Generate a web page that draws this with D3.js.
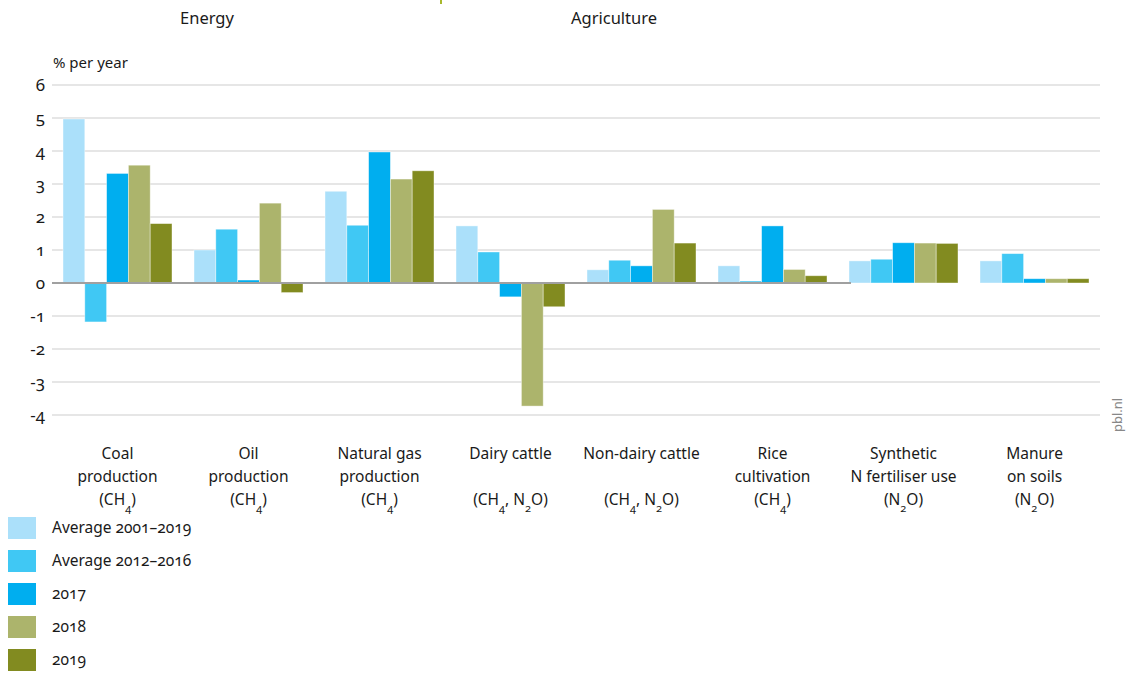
<!DOCTYPE html>
<html>
<head>
<meta charset="utf-8">
<script src="https://cdn.jsdelivr.net/npm/d3@7"></script>
<style>
	body { margin: 0; background: #fff; }
	svg text { font-family: "Noto Sans", "Open Sans", sans-serif; fill: #1a1a1a; font-variant-numeric: oldstyle-nums; }
</style>
</head>
<body>
<div id="chart"></div>
<script>

// categories, each label split into lines; "_x" marks a subscript
var categories = ['coal', 'oil', 'gas', 'dairy', 'nondairy', 'rice', 'synthetic', 'manure']
var categoryLabels = [
	['Coal', 'production', '(CH_4)'],
	['Oil', 'production', '(CH_4)'],
	['Natural gas', 'production', '(CH_4)'],
	['Dairy cattle', '', '(CH_4, N_2O)'],
	['Non-dairy cattle', '', '(CH_4, N_2O)'],
	['Rice', 'cultivation', '(CH_4)'],
	['Synthetic', 'N fertiliser use', '(N_2O)'],
	['Manure', 'on soils', '(N_2O)']
]

var seriesNames = ['Average 2001\u20132019', 'Average 2012\u20132016', '2017', '2018', '2019']
var seriesColors = ['#abe0fa', '#40c8f4', '#00aeef', '#acb46c', '#828b20']

var avg2001_2019 = [4.97, 1.0, 2.78, 1.73, 0.40, 0.52, 0.67, 0.67]
var avg2012_2016 = [-1.18, 1.63, 1.75, 0.94, 0.69, 0.06, 0.72, 0.89]
var y2017 = [3.32, 0.09, 3.97, -0.42, 0.52, 1.73, 1.22, 0.13]
var y2018 = [3.57, 2.42, 3.15, -3.73, 2.23, 0.41, 1.21, 0.13]
var y2019 = [1.80, -0.29, 3.40, -0.72, 1.21, 0.22, 1.20, 0.13]

var yTicks = [-4, -3, -2, -1, 0, 1, 2, 3, 4, 5, 6]

var series = [avg2001_2019, avg2012_2016, y2017, y2018, y2019]

var W = 1126, H = 673
var plot = { left: 52, right: 1100, top: 85, zero: 283 }

var svg = d3.select('#chart').append('svg')
	.attr('width', W)
	.attr('height', H)

var xScale = d3.scaleBand()
	.domain(categories)
	.range([plot.left, plot.right])
	.paddingInner(0.168)
	.paddingOuter(0.084)

var xInner = d3.scaleBand()
	.domain(d3.range(seriesNames.length))
	.range([0, xScale.bandwidth()])

var yScale = d3.scaleLinear()
	.domain([-4, 6])
	.range([plot.zero + 4 * 33, plot.zero - 6 * 33])

// gridlines
svg.append('g').selectAll('line')
	.data(yTicks.filter(function(d) { return d !== 0 }))
	.enter().append('line')
	.attr('x1', plot.left)
	.attr('x2', plot.right)
	.attr('y1', function(d) { return yScale(d) })
	.attr('y2', function(d) { return yScale(d) })
	.attr('stroke', '#dedede')
	.attr('stroke-width', 1.5)

// y tick labels
svg.append('g').selectAll('text')
	.data(yTicks)
	.enter().append('text')
	.attr('x', 45)
	.attr('y', function(d) { return yScale(d) + 6 })
	.attr('text-anchor', 'end')
	.style('font-size', '17px')
	.text(function(d) { return d })

svg.append('text')
	.attr('x', 53)
	.attr('y', 68)
	.style('font-size', '15px')
	.text('% per year')

// bars
var groups = svg.append('g').selectAll('g')
	.data(categories)
	.enter().append('g')
	.attr('transform', function(d) { return 'translate(' + xScale(d) + ',0)' })

groups.each(function(c, ci) {
	d3.select(this).selectAll('rect')
		.data(series.map(function(s, si) { return { si: si, v: s[ci] } }))
		.enter().append('rect')
		.attr('x', function(d) { return xInner(d.si) })
		.attr('width', xInner.bandwidth())
		.attr('y', function(d) { return yScale(Math.max(0, d.v)) })
		.attr('height', function(d) { return Math.abs(yScale(d.v) - yScale(0)) })
		.attr('fill', function(d) { return seriesColors[d.si] })
		.attr('stroke', '#ffffff')
		.attr('stroke-opacity', 0.5)
		.attr('stroke-width', 0.8)
})

// zero line
svg.append('line')
	.attr('x1', plot.left)
	.attr('x2', xScale(categories[6]) + 2)
	.attr('y1', yScale(0))
	.attr('y2', yScale(0))
	.attr('stroke', '#a0a0a0')
	.attr('stroke-width', 1.8)

// category labels with subscripts
var labelLines = [459, 482, 505]
categoryLabels.forEach(function(lines, ci) {
	var cx = xScale(categories[ci]) + xScale.bandwidth() / 2
	lines.forEach(function(line, li) {
		if (!line) return
		var t = svg.append('text')
			.attr('x', cx)
			.attr('y', labelLines[li])
			.attr('text-anchor', 'middle')
			.style('font-size', '15.5px')
		var parts = line.split(/_(\d)/)
		var shift = 0
		parts.forEach(function(p, pi) {
			if (pi % 2 === 1) {
				t.append('tspan').attr('dy', 7).style('font-size', '11px').text(p)
				shift = -7
			} else if (p) {
				t.append('tspan').attr('dy', shift).text(p)
				shift = 0
			}
		})
	})
})

// section titles
svg.append('text')
	.attr('x', 207).attr('y', 24)
	.attr('text-anchor', 'middle')
	.style('font-size', '16.5px')
	.text('Energy')

svg.append('text')
	.attr('x', 614).attr('y', 24)
	.attr('text-anchor', 'middle')
	.style('font-size', '16.5px')
	.text('Agriculture')

svg.append('line')
	.attr('x1', 441).attr('x2', 441)
	.attr('y1', 0).attr('y2', 4)
	.attr('stroke', '#a8b82c')
	.attr('stroke-width', 2)

// legend
var legend = svg.append('g').selectAll('g')
	.data(seriesNames)
	.enter().append('g')
	.attr('transform', function(d, i) { return 'translate(8,' + (517 + i * 33) + ')' })

legend.append('rect')
	.attr('width', 28)
	.attr('height', 22)
	.attr('fill', function(d, i) { return seriesColors[i] })

legend.append('text')
	.attr('x', 44)
	.attr('y', 16)
	.style('font-size', '15.5px')
	.text(function(d) { return d })

// source
svg.append('text')
	.attr('transform', 'translate(1122,432) rotate(-90)')
	.style('font-size', '13px')
	.style('fill', '#888')
	.text('pbl.nl')

</script>
</body>
</html>
